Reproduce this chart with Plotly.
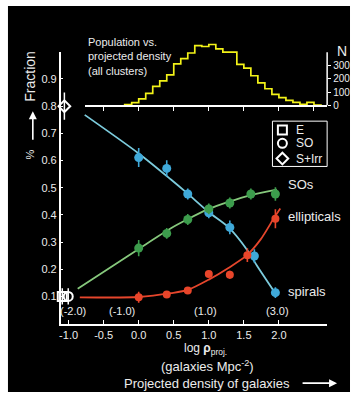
import plotly.graph_objects as go

W, H = 351, 398
FONT = "Liberation Sans, Arial, sans-serif"
TXT = "#ececec"

# ---------------- data ----------------
# histogram: population vs projected density (all clusters)
hist_bin_edges = [-0.2, -0.1, 0.0, 0.1, 0.2, 0.3, 0.4, 0.5, 0.6, 0.7, 0.8, 0.9, 1.0,
                  1.1, 1.2, 1.3, 1.4, 1.5, 1.6, 1.7, 1.8, 1.9, 2.0, 2.1, 2.2, 2.3,
                  2.4, 2.5, 2.6]
hist_counts = [5, 20, 49, 91, 143, 185, 229, 312, 352, 394, 450, 443, 458, 425,
               400, 400, 309, 280, 223, 169, 125, 83, 58, 37, 22, 7, 22, 3]
hist_ticks = [-0.5, 0.0, 0.5, 1.0, 1.5, 2.0, 2.5]
hist_n_ticks = [0, 100, 200, 300]
hist_n_axis_top = 400

# morphology fractions
spiral_x = [0.0, 0.4, 0.7, 1.0, 1.3, 1.65, 1.95]
spiral_y = [0.611, 0.571, 0.477, 0.408, 0.354, 0.249, 0.114]
spiral_err = [0.035, 0.03, 0.02, 0.02, 0.025, 0.025, 0.02]

so_x = [0.0, 0.4, 0.7, 1.0, 1.3, 1.6, 1.95]
so_y = [0.278, 0.332, 0.383, 0.422, 0.444, 0.477, 0.477]
so_err = [0.03, 0.02, 0.02, 0.02, 0.02, 0.02, 0.025]

ell_x = [0.0, 0.4, 0.7, 1.0, 1.3, 1.55, 1.95]
ell_y = [0.097, 0.107, 0.122, 0.183, 0.18, 0.252, 0.386]
ell_err = [0.02, 0.01, 0.01, 0.01, 0.015, 0.025, 0.035]

# fitted curves
spiral_fit_x = [-0.77, 0.0, 0.46, 0.69, 1.0, 1.28, 1.55, 1.69, 1.94]
spiral_fit_y = [0.768, 0.626, 0.53, 0.48, 0.41, 0.355, 0.27, 0.212, 0.115]
so_fit_x = [-0.87, 0.0, 0.46, 0.69, 1.0, 1.28, 1.6, 1.97]
so_fit_y = [0.128, 0.275, 0.351, 0.383, 0.422, 0.448, 0.473, 0.493]
ell_fit_x = [-0.84, 0.0, 0.46, 0.7, 1.0, 1.28, 1.54, 1.74, 1.94, 2.02]
ell_fit_y = [0.097, 0.098, 0.112, 0.124, 0.162, 0.205, 0.251, 0.31, 0.393, 0.424]

# field values
field_names = ["E", "SO", "S+Irr"]
field_symbols = ["square-open", "circle-open", "diamond-open"]
field_x = [-1.09, -1.005, -1.06]
field_y = [0.1, 0.1, 0.8]
field_err = [0.03, 0.03, 0.05]

x_ticks = [-1.0, -0.5, 0.0, 0.5, 1.0, 1.5, 2.0]
x_tick_text = ["-1.0", "-0.5", "0.0", "0.5", "1.0", "1.5", "2.0"]
y_ticks = [0.1, 0.2, 0.3, 0.4, 0.5, 0.6, 0.7, 0.8, 0.9]
y_tick_text = ["0.1", "0.2", "0.3", "0.4", "0.5", "0.6", "0.7", "0.8", "0.9"]

vol_labels = ["(-2.0)", "(-1.0)", "(1.0)", "(3.0)"]
vol_x = [-0.93, -0.24, 0.95, 1.98]
vol_y = 0.046

curve_labels = ["SOs", "ellipticals", "spirals"]
curve_label_y = [0.513, 0.393, 0.118]
curve_label_x = 2.106

# colours
BLUE_PT, BLUE_LN = "#3fa9d9", "#7ccbdc"
GREEN_PT, GREEN_LN = "#3c9c4c", "#86c87c"
RED_PT, RED_LN = "#e8452a", "#e6462c"
YELLOW = "#f2f218"


def px(x):
    return x / W


def py(y):
    return 1 - y / H


fig = go.Figure()

# histogram step outline
fig.add_trace(go.Scatter(
    x=[hist_bin_edges[0]] + hist_bin_edges,
    y=[0] + hist_counts + [0],
    mode="lines", line=dict(color=YELLOW, width=1.7, shape="hv"),
    xaxis="x2", yaxis="y2", showlegend=False, hoverinfo="skip"))

# fitted curves
for fx, fy, col in [(spiral_fit_x, spiral_fit_y, BLUE_LN),
                    (so_fit_x, so_fit_y, GREEN_LN),
                    (ell_fit_x, ell_fit_y, RED_LN)]:
    fig.add_trace(go.Scatter(x=fx, y=fy, mode="lines",
                             line=dict(color=col, width=1.8, shape="spline", smoothing=0.8),
                             showlegend=False, hoverinfo="skip"))

# data points
for xs, ys, es, col, sz in [(spiral_x, spiral_y, spiral_err, BLUE_PT, 9),
                            (so_x, so_y, so_err, GREEN_PT, 9),
                            (ell_x, ell_y, ell_err, RED_PT, 8)]:
    fig.add_trace(go.Scatter(x=xs, y=ys, mode="markers",
                             marker=dict(color=col, size=sz, line=dict(width=0)),
                             error_y=dict(type="data", array=es, color=col, thickness=1.6, width=0),
                             showlegend=False, hoverinfo="skip"))

# field points
for name, sym, fx, fy, fe in zip(field_names, field_symbols, field_x, field_y, field_err):
    fig.add_trace(go.Scatter(x=[fx], y=[fy], mode="markers", name=name,
                             marker=dict(symbol=sym, color="white", size=9,
                                         line=dict(color="white", width=2)),
                             error_y=dict(type="data", array=[fe], color="white",
                                          thickness=1.5, width=0),
                             cliponaxis=False, showlegend=False, hoverinfo="skip"))

# legend keys (drawn in a small box-local axis, units = pixels inside the box)
LEG_L, LEG_R, LEG_T, LEG_B = 272, 327, 123, 169
leg_key_x = [10, 10, 10]
leg_key_y = [9, 22.5, 38]
fig.add_trace(go.Scatter(x=leg_key_x, y=leg_key_y, mode="markers",
                         marker=dict(symbol=field_symbols, color="white", size=9,
                                     line=dict(color="white", width=2)),
                         xaxis="x3", yaxis="y3", showlegend=False, hoverinfo="skip",
                         cliponaxis=False))

axis_common = dict(showline=True, linecolor="white", linewidth=1.5, showgrid=False,
                   zeroline=False, tickcolor="white", tickwidth=1.2,
                   tickfont=dict(family=FONT, size=11, color=TXT))


def note(x, y, text, size, **kw):
    d = dict(x=px(x), y=py(y), xref="paper", yref="paper", text=text, showarrow=False,
             xanchor="center", yanchor="middle", font=dict(family=FONT, size=size, color=TXT))
    d.update(kw)
    return d


ann = []
for t, xv in zip(vol_labels, vol_x):
    ann.append(dict(x=xv, y=vol_y, xref="x", yref="y", text=t, showarrow=False,
                    xanchor="center", yanchor="middle",
                    font=dict(family=FONT, size=11, color=TXT)))
for t, yv in zip(curve_labels, curve_label_y):
    ann.append(dict(x=curve_label_x, y=yv, xref="x", yref="y", text=t, showarrow=False,
                    xanchor="left", yanchor="middle",
                    font=dict(family=FONT, size=13, color=TXT)))
for t, yv in zip(field_names, leg_key_y):
    ann.append(dict(x=22, y=yv, xref="x3", yref="y3", text=t, showarrow=False,
                    xanchor="left", yanchor="middle",
                    font=dict(family=FONT, size=12, color=TXT)))

ann += [
    note(84, 35, "Population vs.<br>projected density<br>(all clusters)", 11,
         xanchor="left", yanchor="top", align="left"),
    note(342, 52, "N", 14),
    note(28, 77, "Fraction", 14, textangle=-90),
    note(28, 157, "%", 11, textangle=-90),
    note(205, 354, "log <b>ρ</b><sub>proj.</sub>", 12),
    note(207, 372, "(galaxies Mpc<sup>-2</sup>)", 13),
    note(206, 389, "Projected density of galaxies", 13),
    dict(x=px(31), y=py(113), xref="paper", yref="paper", text="", showarrow=True,
         ax=0, ay=30, arrowhead=2, arrowsize=1, arrowwidth=1.6, arrowcolor="white"),
    dict(x=px(337), y=py(389), xref="paper", yref="paper", text="", showarrow=True,
         ax=-36, ay=0, arrowhead=2, arrowsize=1, arrowwidth=1.6, arrowcolor="white"),
]

# N scale: 0 at px 107, 13.5 px per 100 -> top of subplot set for 500
n_top_px = 107 - 500 * 0.135

fig.update_layout(
    width=W, height=H, margin=dict(l=0, r=0, t=0, b=0),
    paper_bgcolor="white", plot_bgcolor="rgba(0,0,0,0)",
    font=dict(family=FONT, color=TXT),
    showlegend=False,
    shapes=[
        dict(type="rect", xref="paper", yref="paper", x0=px(6), x1=px(350),
             y0=0, y1=py(6), fillcolor="black", line=dict(width=0), layer="below"),
        # right-hand N axis line
        dict(type="line", xref="paper", yref="y2", x0=px(327), x1=px(327),
             y0=0, y1=hist_n_axis_top, line=dict(color="white", width=1.5)),
        # legend box
        dict(type="rect", xref="paper", yref="paper", x0=px(LEG_L), x1=px(LEG_R),
             y0=py(LEG_B), y1=py(LEG_T), line=dict(color="white", width=1)),
    ],
    xaxis=dict(domain=[px(59), px(327)], range=[-1.113, 2.688], anchor="y",
               ticks="inside", ticklen=4, tickvals=x_ticks, ticktext=x_tick_text,
               **axis_common),
    yaxis=dict(domain=[py(328.6), py(52.6)], range=[0, 1.0], anchor="x",
               ticks="inside", ticklen=3, tickvals=y_ticks, ticktext=y_tick_text,
               **axis_common),
    xaxis2=dict(domain=[px(83), px(327)], range=[-0.773, 2.688], anchor="y2",
                ticks="outside", ticklen=4, tickvals=hist_ticks, showticklabels=False,
                **axis_common),
    yaxis2=dict(domain=[py(107), py(n_top_px)], range=[0, 500], anchor="x2", side="right",
                ticks="outside", ticklen=3, tickvals=hist_n_ticks,
                **{**axis_common, "showline": False,
                   "tickfont": dict(family=FONT, size=10, color=TXT)}),
    xaxis3=dict(domain=[px(LEG_L), px(LEG_R)], range=[0, LEG_R - LEG_L], anchor="y3",
                visible=False, fixedrange=True),
    yaxis3=dict(domain=[py(LEG_B), py(LEG_T)], range=[LEG_B - LEG_T, 0], anchor="x3",
                visible=False, fixedrange=True),
    annotations=ann,
)

fig.write_html("out.html", config={"displayModeBar": False},
               post_script="document.body.style.margin='0px';"
                           "document.body.style.overflow='hidden';")
